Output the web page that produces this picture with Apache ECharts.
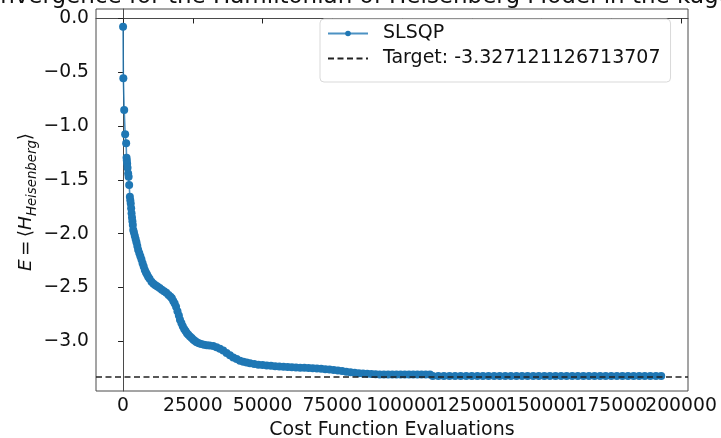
<!DOCTYPE html>
<html>
<head>
<meta charset="utf-8">
<script src="https://cdn.jsdelivr.net/npm/echarts@6/dist/echarts.min.js"></script>
<style>
  html, body { margin: 0; padding: 0; background: #fff; }
  #main { width: 721px; height: 438px; }
</style>
</head>
<body>
<div id="main"></div>
<script>
// values
const titleText = 'Convergence for the Hamiltonian of Heisenberg Model in the kagome lattice';
const target = -3.327121126713707;
const xTicks = [0, 25000, 50000, 75000, 100000, 125000, 150000, 175000, 200000];
const yTicks = [-3.0, -2.5, -2.0, -1.5, -1.0, -0.5, 0.0];

// [cost function evaluations, energy]
const slsqpPoints = [
  [0, -0.076], [100, -0.556], [400, -0.850], [750, -1.076], [1110, -1.16],
  [1250, -1.294], [1350, -1.32], [1470, -1.35], [1600, -1.387], [1830, -1.44],
  [2000, -1.47], [2190, -1.547], [2440, -1.656],
  [2600, -1.69], [2750, -1.72], [2900, -1.764], [3050, -1.81], [3200, -1.85],
  [3350, -1.885], [3500, -1.92], [3650, -1.966], [3900, -1.99], [4200, -2.02],
  [4500, -2.05], [4800, -2.08], [5100, -2.115], [5400, -2.15], [5800, -2.18],
  [6200, -2.21], [6600, -2.24], [7000, -2.275], [7400, -2.305], [7800, -2.337],
  [8200, -2.36], [8600, -2.38], [9000, -2.40], [9500, -2.42], [10200, -2.446],
  [10900, -2.465], [11600, -2.48], [12300, -2.49], [13100, -2.505], [13900, -2.52],
  [14700, -2.535], [15500, -2.55], [16300, -2.57], [17000, -2.585], [17500, -2.60],
  [18000, -2.625], [18500, -2.65], [19000, -2.68], [19500, -2.72], [20000, -2.76],
  [20400, -2.80], [20900, -2.83], [21400, -2.86], [21900, -2.885], [22400, -2.905],
  [22900, -2.925], [23400, -2.94], [24000, -2.955], [24600, -2.97], [25200, -2.985],
  [25800, -2.998], [26400, -3.008], [27200, -3.018], [28000, -3.025], [29000, -3.032],
  [30000, -3.037], [31000, -3.04], [32300, -3.044], [33500, -3.055], [34700, -3.07],
  [35900, -3.085], [37100, -3.11], [38300, -3.13], [39500, -3.15], [40700, -3.165],
  [41900, -3.18], [43100, -3.19], [44300, -3.198], [45500, -3.205], [47000, -3.212],
  [48500, -3.217], [50000, -3.22], [51500, -3.224], [53000, -3.228], [54500, -3.231],
  [56000, -3.234], [57500, -3.237], [59000, -3.24], [60500, -3.242], [62000, -3.244],
  [63500, -3.245], [65000, -3.247], [66500, -3.249], [68000, -3.251], [69500, -3.253],
  [71000, -3.255], [72500, -3.259], [74000, -3.263], [75500, -3.267], [77000, -3.272],
  [78500, -3.277], [80000, -3.283], [81500, -3.288], [83000, -3.292], [84500, -3.296],
  [86000, -3.299], [87500, -3.302], [89000, -3.304], [90500, -3.306], [92000, -3.308],
  [93500, -3.309], [95000, -3.309], [96500, -3.309], [98000, -3.309], [99500, -3.309],
  [101000, -3.309], [102500, -3.309], [104000, -3.309], [105500, -3.309], [107000, -3.309],
  [108500, -3.309], [110000, -3.309],
  [111000, -3.323], [113000, -3.323], [115000, -3.323], [117000, -3.323], [119000, -3.323],
  [121000, -3.323], [123000, -3.323], [125000, -3.323], [127000, -3.323], [129000, -3.323],
  [131000, -3.323], [133000, -3.323], [135000, -3.323], [137000, -3.323], [139000, -3.323],
  [141000, -3.323], [143000, -3.323], [145000, -3.323], [147000, -3.323], [149000, -3.323],
  [151000, -3.323], [153000, -3.323], [155000, -3.323], [157000, -3.323], [159000, -3.323],
  [161000, -3.323], [163000, -3.323], [165000, -3.323], [167000, -3.323], [169000, -3.323],
  [171000, -3.323], [173000, -3.323], [175000, -3.323], [177000, -3.323], [179000, -3.323],
  [181000, -3.323], [183000, -3.323], [185000, -3.323], [187000, -3.323], [189000, -3.323],
  [191000, -3.323], [192900, -3.323]
];

const FONT = 'DejaVu Sans';
const blue = '#1f77b4';
const targetName = 'Target: ' + target;
const xMin = -9700, xMax = 202500;

// the tick labels touch in the reference; echarts drops the one next to the
// last label when they overlap, so the second-to-last one goes on a twin axis
const xLabelsMain = xTicks.filter((v, i) => i !== xTicks.length - 2);
const xLabelsTwin = [xTicks[xTicks.length - 2]];

const xLabelStyle = {
  margin: 6, fontFamily: FONT, fontSize: 18.8, color: '#111',
  formatter: v => String(v)
};

const chart = echarts.init(document.getElementById('main'));

const option = {
  animation: false,
  backgroundColor: '#fff',
  grid: {
    left: 96, right: 33, top: 9, bottom: 47,
    outerBoundsMode: 'none',
    containLabel: false,
    show: true, borderColor: '#4a4a4a', borderWidth: 1
  },
  legend: {
    orient: 'vertical',
    left: 320, top: 19,
    padding: [5, 10, 14, 7],
    itemWidth: 40, itemHeight: 7, itemGap: 6,
    backgroundColor: '#fff',
    borderColor: '#d9d9d9', borderWidth: 1, borderRadius: 4,
    data: ['SLSQP', { name: targetName, itemStyle: { opacity: 0 } }],
    formatter: name => '{t|' + name + '}',
    textStyle: {
      rich: { t: { fontFamily: FONT, fontSize: 19, color: '#111', padding: [0, 0, 0, 10], lineHeight: 22 } }
    }
  },
  xAxis: [
    {
      type: 'value',
      min: xMin, max: xMax,
      name: 'Cost Function Evaluations',
      nameLocation: 'middle', nameGap: 28,
      nameTextStyle: { fontFamily: FONT, fontSize: 19, color: '#111' },
      axisLine: { show: true, lineStyle: { color: '#4a4a4a', width: 1 } },
      axisTick: { show: true, length: 5, customValues: xTicks, lineStyle: { color: '#222' } },
      axisLabel: Object.assign({ customValues: xLabelsMain, showMinLabel: true, showMaxLabel: true }, xLabelStyle),
      splitLine: { show: false }
    },
    {
      type: 'value',
      position: 'bottom',
      min: xMin, max: xMax,
      axisLine: { show: false },
      axisTick: { show: false },
      axisLabel: Object.assign({ customValues: xLabelsTwin }, xLabelStyle),
      splitLine: { show: false }
    }
  ],
  yAxis: {
    type: 'value',
    min: -3.462, max: 0.088,
    axisLine: { show: true, lineStyle: { color: '#4a4a4a', width: 1 } },
    axisTick: { show: true, length: 5, customValues: yTicks, lineStyle: { color: '#222' } },
    axisLabel: {
      customValues: yTicks, margin: 7, fontFamily: FONT, fontSize: 18.7, color: '#111',
      formatter: v => v.toFixed(1).replace('-', '\u2212')
    },
    splitLine: { show: false }
  },
  graphic: [
    {
      type: 'text', left: -30, top: -14, silent: true,
      style: { text: titleText, fontFamily: FONT, fontSize: 23, fill: '#111' }
    },
    {
      type: 'text', x: 26, y: 202, rotation: Math.PI / 2, silent: true,
      style: {
        text: '{i|E} {n|=} {n|\u27E8}{i|H}{s|Heisenberg}{n|\u27E9}',
        align: 'center', verticalAlign: 'middle',
        rich: {
          i: { fontFamily: FONT, fontStyle: 'italic', fontSize: 18.5, fill: '#111', lineHeight: 26, verticalAlign: 'middle' },
          n: { fontFamily: FONT, fontSize: 18.5, fill: '#111', lineHeight: 26, verticalAlign: 'middle' },
          s: { fontFamily: FONT, fontStyle: 'italic', fontSize: 13.3, fill: '#111', lineHeight: 14, verticalAlign: 'bottom' }
        }
      }
    }
  ],
  series: [
    {
      name: 'SLSQP',
      type: 'line',
      xAxisIndex: 0,
      data: slsqpPoints,
      symbol: 'circle',
      symbolSize: 8,
      showSymbol: true,
      showAllSymbol: true,
      itemStyle: { color: blue },
      lineStyle: { color: blue, width: 1.6, opacity: 0.8 },
      emphasis: { disabled: true },
      z: 2
    },
    {
      name: targetName,
      type: 'line',
      xAxisIndex: 0,
      data: [],
      symbol: 'none',
      itemStyle: { color: '#222' },
      lineStyle: { color: '#222', width: 1.5, type: [6, 3.5] },
      markLine: {
        silent: true,
        symbol: ['none', 'none'],
        label: { show: false },
        lineStyle: { color: '#222', width: 1.5, type: [6, 3.5] },
        data: [{ yAxis: target }]
      },
      z: 3
    }
  ]
};

chart.setOption(option);
</script>
</body>
</html>
